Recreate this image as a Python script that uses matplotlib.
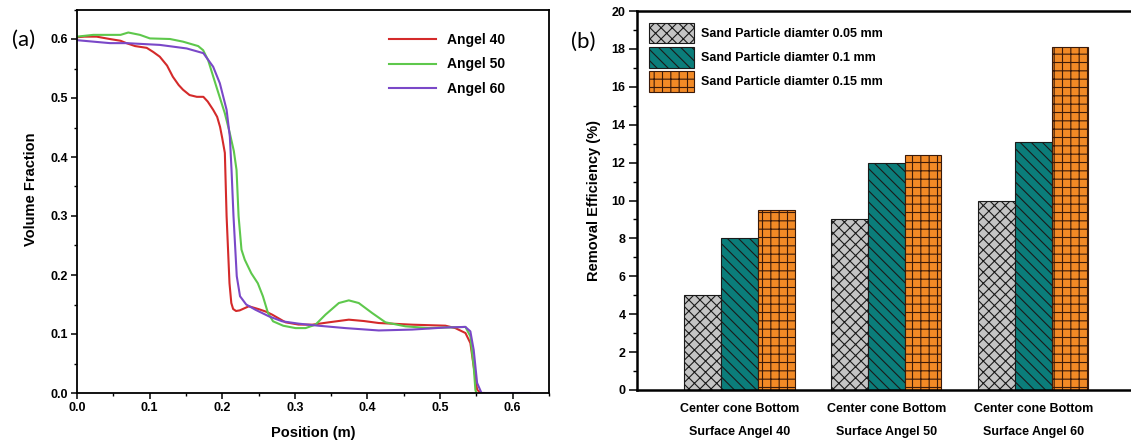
import numpy as np
import matplotlib
matplotlib.use("Agg")
import matplotlib.pyplot as plt
from matplotlib.ticker import MultipleLocator, FormatStrFormatter

plt.rcParams['font.family'] = ['Liberation Sans', 'DejaVu Sans']
plt.rcParams['font.weight'] = 'bold'
plt.rcParams['hatch.linewidth'] = 0.8

# (a) volume fraction along the separator
angle40_x = [0, 0.01, 0.027, 0.045, 0.06, 0.068, 0.08, 0.096, 0.105, 0.114, 0.124, 0.132,
             0.14, 0.146, 0.155, 0.165, 0.174, 0.18, 0.1875, 0.193, 0.197, 0.2, 0.2036,
             0.206, 0.21, 0.2125, 0.215, 0.219, 0.224, 0.2367, 0.2505, 0.26, 0.2688, 0.2872,
             0.305, 0.3239, 0.3468, 0.3743, 0.395, 0.4156, 0.4615, 0.5073, 0.521, 0.5349,
             0.5417, 0.5463, 0.551, 0.556, 0.56]
angle40_y = [0.603, 0.604, 0.604, 0.6, 0.597, 0.593, 0.588, 0.585, 0.578, 0.570, 0.555, 0.536,
             0.522, 0.514, 0.505, 0.502, 0.502, 0.494, 0.48, 0.468, 0.451, 0.432, 0.407,
             0.30, 0.186, 0.1525, 0.1424, 0.139, 0.140, 0.147, 0.142, 0.138, 0.1328, 0.1198,
             0.116, 0.1158, 0.1198, 0.1243, 0.122, 0.1186, 0.1158, 0.1141, 0.110, 0.1017,
             0.0847, 0.045, 0.0056, 0.0, 0.0]

angle50_x = [0, 0.0224, 0.05, 0.06, 0.0706, 0.0867, 0.1004, 0.128, 0.146, 0.1669, 0.1737,
             0.1806, 0.192, 0.2036, 0.2105, 0.216, 0.2197, 0.2225, 0.2265, 0.231, 0.240,
             0.249, 0.256, 0.263, 0.27, 0.284, 0.301, 0.3147, 0.3284, 0.3422, 0.3606, 0.3743,
             0.388, 0.4064, 0.4248, 0.4523, 0.4844, 0.5349, 0.5417, 0.5463, 0.5486, 0.55]
angle50_y = [0.604, 0.607, 0.607, 0.607, 0.611, 0.607, 0.601, 0.600, 0.5955, 0.588, 0.581,
             0.564, 0.519, 0.474, 0.44, 0.41, 0.378, 0.30, 0.243, 0.226, 0.203,
             0.186, 0.164, 0.1356, 0.1215, 0.114, 0.110, 0.110, 0.1158, 0.1328, 0.1525, 0.157,
             0.1525, 0.1356, 0.1198, 0.113, 0.110, 0.112, 0.096, 0.045, 0.0056, 0.0]

angle60_x = [0, 0.0454, 0.068, 0.114, 0.151, 0.174, 0.1875, 0.1967, 0.206, 0.2105, 0.2128,
             0.2155, 0.22, 0.2245, 0.233, 0.2459, 0.2642, 0.2826, 0.3055, 0.333, 0.3697,
             0.4156, 0.4615, 0.5073, 0.5349, 0.5417, 0.5463, 0.551, 0.557, 0.623]
angle60_y = [0.598, 0.593, 0.593, 0.59, 0.584, 0.576, 0.553, 0.525, 0.48, 0.434, 0.378,
             0.30, 0.198, 0.164, 0.150, 0.141, 0.130, 0.1215, 0.1175, 0.114, 0.110,
             0.106, 0.1075, 0.111, 0.112, 0.1045, 0.073, 0.017, 0.0, 0.0]

# (b) removal efficiency per cone angle and sand size
groups = ['Center cone Bottom\nSurface Angel 40',
          'Center cone Bottom\nSurface Angel 50',
          'Center cone Bottom\nSurface Angel 60']
eff_005 = [5.0, 9.0, 10.0]
eff_010 = [8.0, 12.0, 13.1]
eff_015 = [9.5, 12.4, 18.1]
size_labels = ['Sand Particle diamter 0.05 mm',
               'Sand Particle diamter 0.1 mm',
               'Sand Particle diamter 0.15 mm']

W, H = 1131, 443
fig = plt.figure(figsize=(W / 100, H / 100), dpi=100)

# ---- left panel
ax1 = fig.add_axes([77 / W, 50 / H, 472 / W, 383.5 / H])
ax1.plot(angle40_x, angle40_y, color='#d42a2a', lw=1.5, label='Angel 40')
ax1.plot(angle50_x, angle50_y, color='#5ec84c', lw=1.5, label='Angel 50')
ax1.plot(angle60_x, angle60_y, color='#7a48c8', lw=1.5, label='Angel 60')
ax1.set_xlim(0, 0.65)
ax1.set_ylim(0, 0.65)
ax1.set_xticks(np.arange(0, 0.61, 0.1))
ax1.set_yticks(np.arange(0, 0.61, 0.1))
ax1.xaxis.set_minor_locator(MultipleLocator(0.05))
ax1.yaxis.set_minor_locator(MultipleLocator(0.05))
ax1.xaxis.set_major_formatter(FormatStrFormatter('%.1f'))
ax1.yaxis.set_major_formatter(FormatStrFormatter('%.1f'))
ax1.tick_params(which='major', length=4.5, width=1.1, labelsize=9, pad=2)
ax1.tick_params(which='minor', length=2.5, width=1.0)
for s in ax1.spines.values():
    s.set_linewidth(1.3)
ax1.set_xlabel('Position (m)', fontsize=10.5, fontweight='bold')
ax1.set_ylabel('Volume Fraction', fontsize=10.5, fontweight='bold')
ax1.xaxis.set_label_coords(0.5, -0.085)
ax1.yaxis.set_label_coords(-0.082, 0.53)
ax1.legend(loc='upper left', bbox_to_anchor=(389 / W, 1 - 33 / H),
           bbox_transform=fig.transFigure, frameon=False, fontsize=10,
           handlelength=3.4, handletextpad=0.75, labelspacing=0.75,
           borderpad=0, borderaxespad=0)
fig.text(24 / W, 1 - 40 / H, '(a)', fontsize=16, fontweight='normal',
         family=['Lato', 'DejaVu Sans'], ha='center', va='center')

# ---- right panel
ax2 = fig.add_axes([636.7 / W, 53 / H, (1136 - 636.7) / W, 379 / H])
pos = np.arange(1, len(groups) + 1)
bw = 0.25
ax2.bar(pos - bw, eff_005, bw, color='#c4c4c4', edgecolor='#1a1a1a', hatch='xxx',
        lw=0.8, label=size_labels[0])
ax2.bar(pos, eff_010, bw, color='#0b7d7a', edgecolor='#1a1a1a', hatch='\\\\\\',
        lw=0.8, label=size_labels[1])
ax2.bar(pos + bw, eff_015, bw, color='#f28a26', edgecolor='#3a1a0a', hatch='++',
        lw=0.8, label=size_labels[2])
ax2.set_xlim(0.3, 3.7)
ax2.set_ylim(0, 20)
ax2.set_xticks(pos)
ax2.set_xticklabels(groups, fontsize=9, linespacing=2.25)
ax2.tick_params(axis='x', length=0, pad=9)
ax2.yaxis.set_major_locator(MultipleLocator(2))
ax2.yaxis.set_minor_locator(MultipleLocator(1))
ax2.tick_params(axis='y', which='major', length=6, width=1.1, labelsize=9, pad=2)
ax2.tick_params(axis='y', which='minor', length=3, width=1.0)
for s in ax2.spines.values():
    s.set_linewidth(1.8)
ax2.set_ylabel('Removal Efficiency (%)', fontsize=10.5, fontweight='bold')
ax2.yaxis.set_label_coords(-0.072, 0.5)
ax2.legend(loc='upper left', bbox_to_anchor=(649 / W, 1 - 22.5 / H),
           bbox_transform=fig.transFigure, frameon=False, fontsize=9,
           handlelength=3.6, handleheight=2.2, handletextpad=0.55,
           labelspacing=0.25, borderpad=0, borderaxespad=0)
fig.text(583 / W, 1 - 42 / H, '(b)', fontsize=16, fontweight='normal',
         family=['Lato', 'DejaVu Sans'], ha='center', va='center')

fig.savefig('out.png', dpi=100)
